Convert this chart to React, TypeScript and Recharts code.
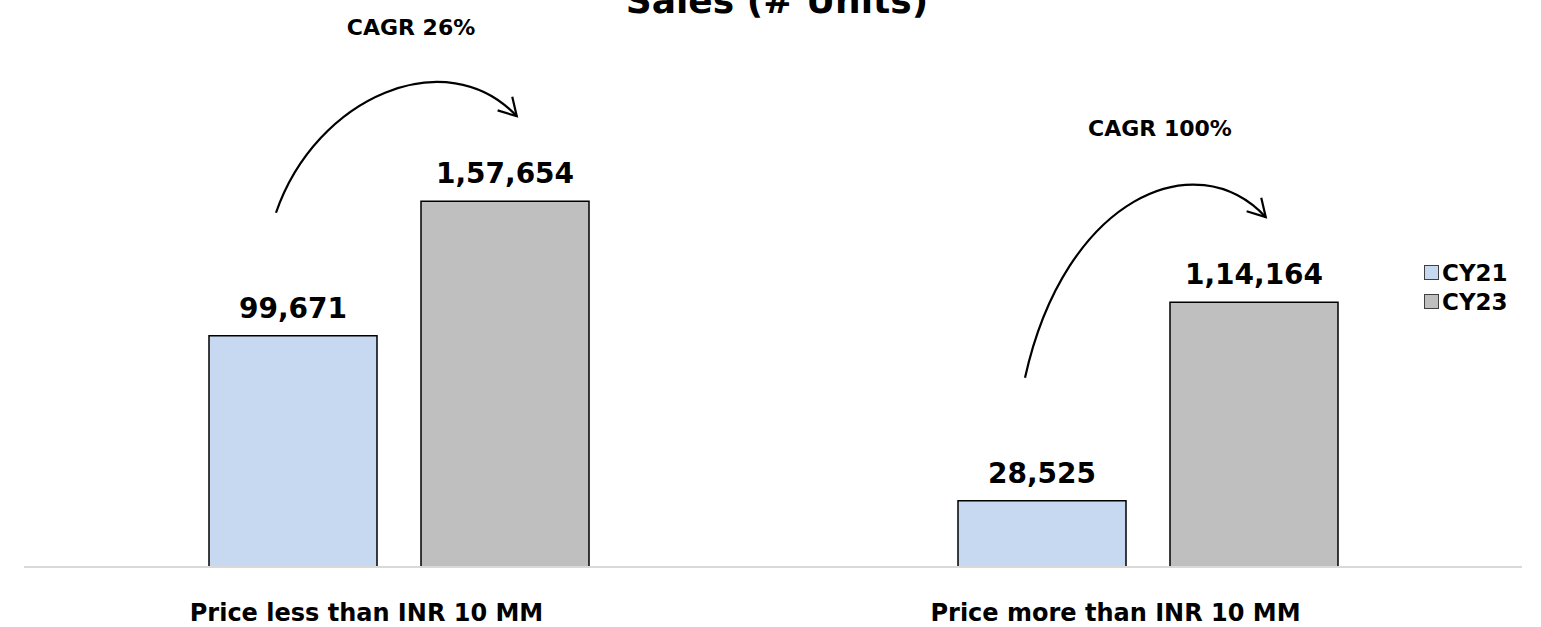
import { BarChart, Bar, XAxis, YAxis, LabelList } from 'recharts';

const categories = ['Price less than INR 10 MM', 'Price more than INR 10 MM'];
const cy21 = [99671, 28525];
const cy23 = [157654, 114164];
const cagr = ['CAGR 26%', 'CAGR 100%'];

const FONT = '"DejaVu Sans", sans-serif';
const BAR_SIZE = 168;
const BAR_GAP = 44;

const series = [
  { key: 'cy21', name: 'CY21', color: '#c6d9f0' },
  { key: 'cy23', name: 'CY23', color: '#bfbfbf' },
];

const data = categories.map((name, i) => ({
  name,
  cy21: cy21[i],
  cy23: cy23[i],
  cagr: cagr[i],
}));

// indian digit grouping: 1,57,654
function fmtIN(v: number) {
  const s = String(Math.round(v));
  if (s.length <= 3) return s;
  const last3 = s.slice(-3);
  let rest = s.slice(0, -3);
  const parts: string[] = [];
  while (rest.length > 2) {
    parts.unshift(rest.slice(-2));
    rest = rest.slice(0, -2);
  }
  if (rest) parts.unshift(rest);
  return parts.join(',') + ',' + last3;
}

function CategoryTick(props: any) {
  const { x, y, payload } = props;
  return (
    <text x={x - 32} y={y + 52} textAnchor="middle" fontFamily={FONT} fontWeight="bold" fontSize={24} fill="#000">
      {payload.value}
    </text>
  );
}

// arrow from the CY21 bar to the CY23 bar, drawn from the CY23 bar's rect
function CagrArrow(props: any) {
  const x = props.x ?? props.viewBox?.x;
  const y = props.y ?? props.viewBox?.y;
  const width = props.width ?? props.viewBox?.width;
  const height = props.height ?? props.viewBox?.height;
  const index = props.index ?? 0;
  if (x == null || y == null) return null;
  const row = data[index];
  const bottom = y + height;
  const top1 = bottom - height * (row.cy21 / row.cy23);
  const left1 = x - BAR_GAP - width;

  const sx = left1 + 67;
  const sy = top1 - 123;
  const ex = x + width * 0.57;
  const ey = y - 85;
  const c1x = sx + 40;
  const c1y = sy - (sy - ey) - 20;
  const c2x = ex - 70;
  const c2y = ey - 75;

  const ang = Math.atan2(ey - c2y, ex - c2x);
  const len = 20;
  const a1 = ang + (Math.PI * 5) / 6;
  const a2 = ang - (Math.PI * 5) / 6;

  const cx = left1 + (width * 2 + BAR_GAP) / 2 + 12;

  return (
    <g>
      <path d={`M${sx},${sy} C${c1x},${c1y} ${c2x},${c2y} ${ex},${ey}`} fill="none" stroke="#000" strokeWidth={2.2} />
      <path
        d={`M${ex + len * Math.cos(a1)},${ey + len * Math.sin(a1)} L${ex},${ey} L${ex + len * Math.cos(a2)},${ey + len * Math.sin(a2)}`}
        fill="none"
        stroke="#000"
        strokeWidth={2.2}
      />
      <text x={cx} y={y - 172} textAnchor="middle" dominantBaseline="middle" fontFamily={FONT} fontWeight="bold" fontSize={22} fill="#000">
        {row.cagr}
      </text>
    </g>
  );
}

export default function App() {
  return (
    <div style={{ position: 'absolute', left: 0, top: 0, width: 1541, height: 627, background: '#fff', overflow: 'hidden' }}>
      <svg width={1541} height={40} style={{ position: 'absolute', left: 0, top: 0, pointerEvents: 'none', zIndex: 2 }}>
        <text x={777} y={13} textAnchor="middle" fontFamily={FONT} fontWeight="bold" fontSize={36} fill="#000">
          Sales (# Units)
        </text>
      </svg>
      <div
        style={{
          position: 'absolute',
          left: 1424,
          top: 258,
          zIndex: 2,
          fontFamily: FONT,
          fontWeight: 'bold',
          fontSize: 23,
          color: '#000',
        }}
      >
        {series.map((s) => (
          <div key={s.key} style={{ display: 'flex', alignItems: 'center', height: 29 }}>
            <span
              style={{
                display: 'inline-block',
                width: 13,
                height: 13,
                background: s.color,
                border: '1px solid #404040',
                marginRight: 3,
              }}
            />
            {s.name}
          </div>
        ))}
      </div>
      <BarChart
        width={1541}
        height={627}
        data={data}
        margin={{ top: 103, right: 19, bottom: 0, left: 24 }}
        barGap={BAR_GAP}
      >
        <XAxis
          dataKey="name"
          height={60}
          tickLine={false}
          tickSize={0}
          axisLine={{ stroke: '#d9d9d9', strokeWidth: 2 }}
          tick={<CategoryTick />}
          interval={0}
        />
        <YAxis hide domain={[0, 200000]} />
        {series.map((s) => (
          <Bar
            key={s.key}
            dataKey={s.key}
            name={s.name}
            fill={s.color}
            stroke="#000"
            strokeWidth={1.5}
            barSize={BAR_SIZE}
            isAnimationActive={false}
          >
            <LabelList
              dataKey={s.key}
              position="top"
              offset={18}
              formatter={(v: any) => fmtIN(Number(v))}
              style={{ fontFamily: FONT, fontWeight: 'bold', fontSize: 28, fill: '#000' }}
            />
            {s.key === 'cy23' ? <LabelList dataKey="cagr" content={<CagrArrow />} /> : null}
          </Bar>
        ))}
      </BarChart>
    </div>
  );
}
